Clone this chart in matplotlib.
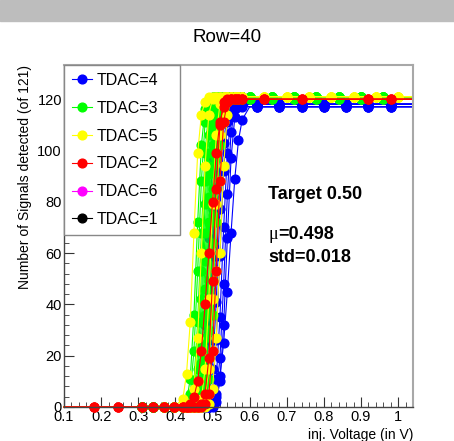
import matplotlib
matplotlib.use("Agg")
import matplotlib.pyplot as plt
from matplotlib.patches import Rectangle
from matplotlib.ticker import MultipleLocator

plt.rcParams['font.family'] = ['Liberation Sans', 'DejaVu Sans']

# injection voltages of the scan (V)
v_low = [0.10, 0.18, 0.245, 0.31, 0.34, 0.37, 0.395]
v_scan = [0.42, 0.43, 0.44, 0.45, 0.46, 0.47, 0.48, 0.49, 0.50,
          0.51, 0.52, 0.53, 0.54, 0.55, 0.56, 0.57, 0.58]
v_high = [0.60, 0.62, 0.64, 0.66, 0.68, 0.70, 0.72, 0.74, 0.76, 0.78, 0.80,
          0.82, 0.84, 0.86, 0.88, 0.90, 0.92, 0.94, 0.96, 0.98, 1.00, 1.04]
volts = v_low + v_scan + v_high

# hits (of 121) over v_scan, one row per pixel
tdac4 = [
    [0, 0, 0, 0, 2, 10, 32, 66, 97, 113, 117, 118, 118, 118, 118, 118, 118],
    [0, 0, 0, 0, 0, 3, 15, 41, 77, 103, 115, 118, 118, 118, 118, 118, 118],
    [0, 0, 0, 0, 0, 1, 7, 26, 59, 92, 111, 117, 118, 118, 118, 118, 118],
    [0, 0, 0, 0, 0, 0, 3, 15, 41, 77, 103, 115, 118, 118, 118, 118, 118],
    [0, 0, 0, 0, 0, 0, 1, 7, 26, 59, 92, 111, 117, 118, 118, 118, 118],
    [0, 0, 0, 0, 0, 0, 0, 3, 15, 41, 77, 103, 115, 118, 118, 118, 118],
    [0, 0, 0, 0, 0, 0, 0, 1, 7, 26, 59, 92, 111, 117, 118, 118, 118],
    [0, 0, 0, 0, 0, 0, 0, 0, 2, 11, 35, 70, 99, 113, 117, 118, 118],
    [0, 0, 0, 0, 0, 0, 0, 0, 1, 5, 19, 48, 83, 107, 116, 118, 118],
    [0, 0, 0, 0, 0, 0, 0, 0, 0, 2, 10, 32, 66, 97, 113, 117, 117],
    [0, 0, 0, 0, 0, 0, 0, 0, 1, 4, 12, 25, 45, 68, 89, 104, 112],
]
plat4 = [118, 118, 118, 118, 117, 118, 118, 118, 118, 117, 117]

tdac3 = [
    [0, 2, 11, 36, 72, 102, 116, 120, 121, 121, 121, 121, 121, 121, 121, 121, 121],
    [0, 1, 5, 22, 53, 88, 111, 119, 121, 121, 121, 121, 121, 121, 121, 121, 121],
    [0, 0, 2, 10, 33, 68, 99, 116, 120, 121, 121, 121, 121, 121, 121, 121, 121],
    [0, 0, 1, 5, 22, 53, 88, 111, 119, 121, 121, 121, 121, 121, 121, 121, 121],
    [0, 0, 0, 3, 15, 42, 79, 106, 118, 121, 121, 121, 121, 121, 121, 121, 121],
    [0, 0, 0, 2, 10, 33, 68, 99, 116, 120, 120, 120, 120, 120, 120, 120, 120],
    [0, 0, 0, 1, 6, 24, 57, 91, 112, 119, 121, 121, 121, 121, 121, 121, 121],
    [0, 0, 0, 0, 4, 17, 46, 82, 108, 118, 121, 121, 121, 121, 121, 121, 121],
    [0, 0, 0, 0, 2, 11, 36, 72, 102, 116, 120, 120, 120, 120, 120, 120, 120],
    [0, 0, 0, 0, 1, 7, 27, 60, 94, 114, 120, 121, 121, 121, 121, 121, 121],
    [0, 0, 0, 0, 1, 5, 19, 49, 85, 110, 119, 121, 121, 121, 121, 121, 121],
    [0, 0, 0, 0, 0, 3, 13, 39, 75, 104, 117, 120, 121, 121, 121, 121, 121],
    [0, 0, 0, 0, 0, 2, 9, 30, 64, 97, 115, 120, 120, 120, 120, 120, 120],
    [0, 0, 0, 0, 0, 1, 5, 19, 49, 85, 110, 119, 121, 121, 121, 121, 121],
    [0, 0, 0, 0, 0, 0, 2, 11, 36, 72, 102, 116, 120, 121, 121, 121, 121],
]
plat3 = [121, 121, 121, 121, 121, 120, 121, 121, 120, 121, 121, 121, 120, 121, 121]

tdac5 = [
    [3, 13, 33, 68, 99, 114, 119, 121, 121, 121, 121, 121, 121, 121, 121, 121, 121],
    [0, 0, 1, 7, 27, 60, 94, 114, 120, 121, 121, 121, 121, 121, 121, 121, 121],
    [0, 0, 0, 0, 0, 3, 15, 42, 79, 106, 118, 121, 121, 121, 121, 121, 121],
    [0, 0, 0, 0, 0, 0, 3, 15, 42, 79, 106, 118, 121, 121, 121, 121, 121],
    [0, 0, 0, 0, 0, 0, 1, 5, 22, 53, 88, 111, 119, 121, 121, 121, 121],
    [0, 0, 0, 0, 0, 0, 0, 1, 7, 27, 60, 94, 114, 120, 121, 121, 121],
]
plat5 = [121, 121, 121, 121, 121, 121]

tdac2 = [
    [0, 0, 1, 4, 10, 22, 40, 60, 80, 99, 111, 117, 119, 120, 120, 120, 120],
    [0, 0, 0, 0, 0, 1, 5, 19, 49, 85, 110, 119, 120, 120, 120, 120, 120],
    [0, 0, 0, 0, 0, 0, 1, 5, 22, 53, 88, 111, 119, 120, 120, 120, 120],
]
plat2 = [120, 120, 120]

tdac6 = [[0, 0, 0, 0, 0, 2, 11, 36, 72, 102, 116, 120, 121, 121, 121, 121, 121]]
plat6 = [121]

tdac1 = [[0, 0, 0, 0, 0, 4, 17, 46, 82, 108, 118, 121, 121, 121, 121, 121, 121]]
plat1 = [121]

labels = ['TDAC=4', 'TDAC=3', 'TDAC=5', 'TDAC=2', 'TDAC=6', 'TDAC=1']
colors = ['#0000ff', '#00ff00', '#ffff00', '#ff0000', '#ff00ff', '#000000']
x_ticks = [0.1, 0.2, 0.3, 0.4, 0.5, 0.6, 0.7, 0.8, 0.9, 1.0]
x_ticklabels = ['0.1', '0.2', '0.3', '0.4', '0.5', '0.6', '0.7', '0.8', '0.9', '1']
y_ticks = [0, 20, 40, 60, 80, 100, 120]

# where markers (measured points) are shown for each group
marks = [
    list(range(11, 24)) + [25, 28, 31, 34, 37, 40, 43],
    list(range(3, 24)) + [24, 27, 30, 33, 36, 39, 42],
    [5, 6] + list(range(7, 24)) + [26, 29, 32, 35, 38, 41, 44],
    list(range(1, 24)) + [26, 31, 40, 43],
    list(range(9, 24)) + [30],
    list(range(9, 24)) + [33],
]

fig = plt.figure(figsize=(4.54, 4.41), dpi=100)
fig.patches.append(Rectangle((0, 1 - 21 / 441), 1, 21 / 441,
                             transform=fig.transFigure, color='#bdbdbd', zorder=0))
ax = fig.add_axes([64 / 454, 1 - 407 / 441, 349 / 454, 342 / 441])

groups = [(tdac4, plat4), (tdac3, plat3), (tdac5, plat5),
          (tdac2, plat2), (tdac6, plat6), (tdac1, plat1)]
# TDAC=6 and TDAC=1 sit underneath the others
draw_order = [5, 4, 0, 1, 2, 3]
handles = {}
for k in draw_order:
    rows, plats = groups[k]
    for i, (row, p) in enumerate(zip(rows, plats)):
        y = [0] * len(v_low) + row + [p] * len(v_high)
        ln, = ax.plot(volts, y, color=colors[k], lw=0.8, marker='o', ms=6.3,
                      markevery=marks[k], clip_on=False)
        if i == 0:
            handles[k] = ln

ax.set_xlim(0.1, 1.04)
ax.set_ylim(0, 133.3)
ax.set_xticks(x_ticks, x_ticklabels)
ax.set_yticks(y_ticks)
ax.xaxis.set_minor_locator(MultipleLocator(0.02))
ax.yaxis.set_minor_locator(MultipleLocator(4))
ax.tick_params(which='both', direction='in', labelsize=10.5, color='#333333')
ax.tick_params(which='major', length=7)
ax.tick_params(which='minor', length=3.5)
ax.tick_params(axis='x', pad=2)
ax.tick_params(axis='y', pad=1.5)

for s in ['top', 'right']:
    ax.spines[s].set_color('#a8a8a8')
    ax.spines[s].set_linewidth(1.5)
for s in ['left', 'bottom']:
    ax.spines[s].set_color('#444444')
    ax.spines[s].set_linewidth(1.0)

ax.set_ylabel('Number of Signals detected (of 121)', fontsize=10, loc='top', labelpad=4)
ax.set_xlabel('inj. Voltage (in V)', fontsize=10, loc='right', labelpad=3)
fig.text(0.5, 1 - 37 / 441, 'Row=40', ha='center', va='center', fontsize=13.5)

leg = ax.legend([handles[k] for k in range(6)], labels,
                loc='upper left', bbox_to_anchor=(0, 0.488, 0.332, 0.512),
                mode='expand', borderaxespad=0, fontsize=11.5, handlelength=1.25,
                handletextpad=0.3, labelspacing=0.8, borderpad=0.5,
                fancybox=False, framealpha=1, edgecolor='#888888')
leg.get_frame().set_linewidth(1.0)
leg.set_zorder(5)

ax.text(0.585, 0.62, 'Target 0.50', transform=ax.transAxes, fontsize=13,
        fontweight='bold', va='center')
t_mu = ax.text(0.585, 0.503, 'μ', transform=ax.transAxes, fontsize=13,
               family='Liberation Serif', va='center')
ax.annotate('=0.498', xy=(1, 0), xycoords=t_mu, va='bottom', fontsize=13,
            fontweight='bold')
ax.text(0.585, 0.436, 'std=0.018', transform=ax.transAxes, fontsize=13,
        fontweight='bold', va='center')

fig.savefig('out.png', dpi=100)
